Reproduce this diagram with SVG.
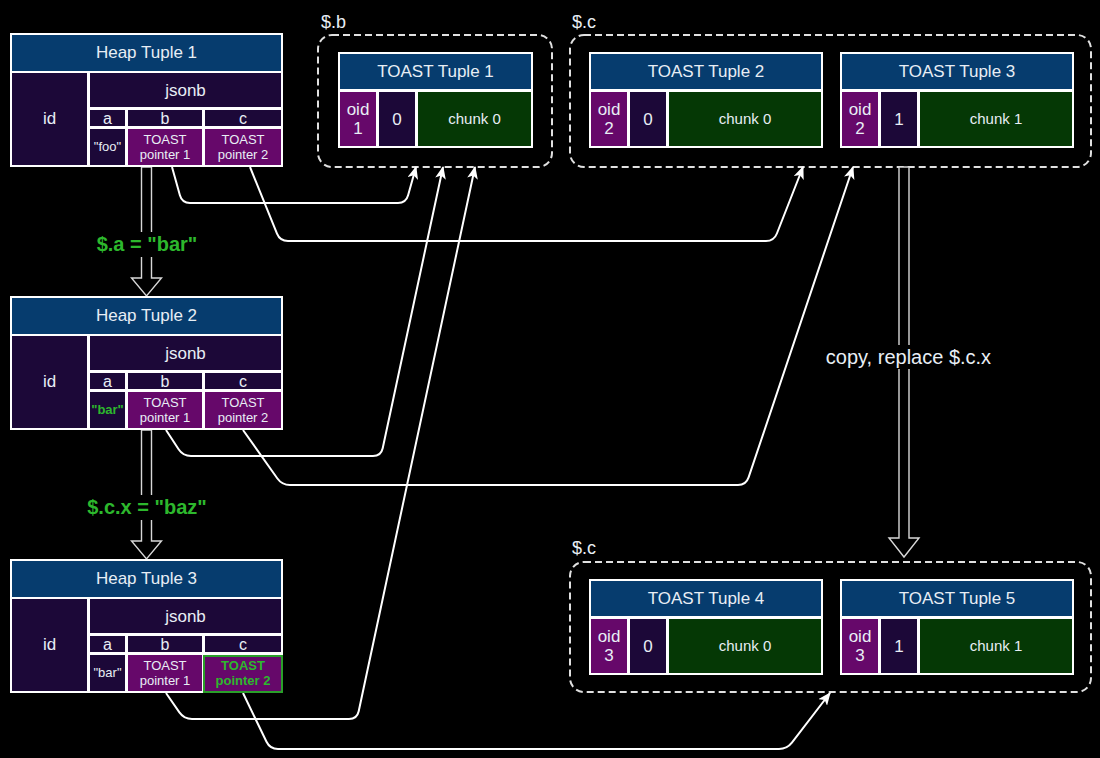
<svg xmlns="http://www.w3.org/2000/svg" width="1100" height="758" viewBox="0 0 1100 758">
<defs>
<style>
.bd{fill:#ffffff}
.hd{fill:#063c6e}
.dp{fill:#1c0838}
.pp{fill:#66086a}
.gr{fill:#053805}
text{font-family:"Liberation Sans",Arial,Helvetica,sans-serif;text-anchor:middle;fill:#e8eef5}
.f17{font-size:17px}
.f16{font-size:16px}
.f15{font-size:15px}
.f13{font-size:13px}
.gt{fill:#2db82d;font-weight:bold}
.grp{fill:none;stroke:#e0e0e0;stroke-width:2;stroke-dasharray:7 4}
.lbl{font-size:18px;text-anchor:start}
.con{fill:none;stroke:#ffffff;stroke-width:2}
.hol{fill:#000;stroke:#d8d8d8;stroke-width:1.4}
</style>
<marker id="ah" viewBox="0 0 12 10" refX="11" refY="5" markerWidth="13" markerHeight="11" markerUnits="userSpaceOnUse" orient="auto">
<path d="M0,0 L12,5 L0,10 L3,5 z" fill="#ffffff"/>
</marker>
</defs>
<rect width="1100" height="758" fill="#000"/>

<!-- groups (dashed) -->
<g id="group-b">
<rect class="grp" x="318" y="35" width="234" height="132" rx="14"/>
<text class="lbl" x="321" y="28">$.b</text>
</g>
<g id="group-c-top">
<rect class="grp" x="570" y="35" width="521" height="132" rx="14"/>
<text class="lbl" x="572" y="28">$.c</text>
</g>
<g id="group-c-bottom">
<rect class="grp" x="570" y="562" width="521" height="130" rx="14"/>
<text class="lbl" x="572" y="554">$.c</text>
</g>

<!-- connectors -->
<g id="connectors">
<path class="con" marker-end="url(#ah)" d="M172,167 L179.9,195.3 Q182,203 190,203 L398,203 Q406,203 408.1,195.3 L416,167"/>
<path class="con" marker-end="url(#ah)" d="M250,167 L277,233.6 Q280,241 288,241 L766,241 Q774,241 776.9,233.5 L803,167"/>
<path class="con" marker-end="url(#ah)" d="M166,430 L178.6,449.3 Q183,456 191,456 L373,456 Q381,456 382.7,448.2 L443,167"/>
<path class="con" marker-end="url(#ah)" d="M243,430 L277.4,478.5 Q282,485 290,485 L738,485 Q746,485 748.6,477.4 L853,167"/>
<path class="con" marker-end="url(#ah)" d="M166,693 L179.4,712.4 Q184,719 192,719 L349,719 Q357,719 358.7,711.2 L475,167"/>
<path class="con" marker-end="url(#ah)" d="M243,693 L266.5,741.8 Q270,749 278,749 L779,749 Q787,749 791.9,742.7 L830,693"/>
<!-- hollow update arrows -->
<polygon class="hol" points="141.5,167 151.5,167 151.5,278 161.5,278 146.5,296 131.5,278 141.5,278"/>
<rect x="94" y="232" width="106" height="25" fill="#000"/>
<text class="gt" style="font-size:20px" x="147" y="251">$.a = "bar"</text>
<polygon class="hol" points="141.5,430 151.5,430 151.5,541 161.5,541 146.5,559 131.5,541 141.5,541"/>
<rect x="85" y="495" width="124" height="25" fill="#000"/>
<text class="gt" style="font-size:20px" x="147" y="514">$.c.x = "baz"</text>
<polygon class="hol" points="899,167 909,167 909,538 919,538 904,557 889,538 899,538"/>
<rect x="823" y="345" width="171" height="24" fill="#000"/>
<text style="font-size:20px" x="908.5" y="364">copy, replace $.c.x</text>
</g>

<!-- Heap tuples -->
<g id="heap-tuple-1" transform="translate(10,33)">
<rect class="bd" width="273" height="134"/>
<rect class="hd" x="2" y="2" width="269" height="36"/>
<rect class="dp" x="2" y="40" width="75" height="92"/>
<rect class="dp" x="80" y="40" width="191" height="34"/>
<rect class="dp" x="80" y="77" width="35" height="16"/>
<rect class="dp" x="118" y="77" width="74" height="16"/>
<rect class="dp" x="195" y="77" width="76" height="16"/>
<rect class="dp" x="80" y="96" width="35" height="36"/>
<rect class="pp" x="118" y="96" width="74" height="36"/>
<rect class="pp" x="195" y="96" width="76" height="36"/>
<text class="f17" x="136.5" y="25">Heap Tuple 1</text>
<text class="f17" x="39.5" y="91">id</text>
<text class="f17" x="175.5" y="63">jsonb</text>
<text class="f16" x="97.5" y="91">a</text>
<text class="f16" x="155" y="91">b</text>
<text class="f16" x="233" y="91">c</text>
<text class="f13" x="97.5" y="118">"foo"</text>
<text class="f13" x="155" y="111">TOAST</text>
<text class="f13" x="155" y="126">pointer 1</text>
<text class="f13" x="233" y="111">TOAST</text>
<text class="f13" x="233" y="126">pointer 2</text>
</g>

<g id="heap-tuple-2" transform="translate(10,296)">
<rect class="bd" width="273" height="134"/>
<rect class="hd" x="2" y="2" width="269" height="36"/>
<rect class="dp" x="2" y="40" width="75" height="92"/>
<rect class="dp" x="80" y="40" width="191" height="34"/>
<rect class="dp" x="80" y="77" width="35" height="16"/>
<rect class="dp" x="118" y="77" width="74" height="16"/>
<rect class="dp" x="195" y="77" width="76" height="16"/>
<rect class="dp" x="80" y="96" width="35" height="36"/>
<rect class="pp" x="118" y="96" width="74" height="36"/>
<rect class="pp" x="195" y="96" width="76" height="36"/>
<text class="f17" x="136.5" y="25">Heap Tuple 2</text>
<text class="f17" x="39.5" y="91">id</text>
<text class="f17" x="175.5" y="63">jsonb</text>
<text class="f16" x="97.5" y="91">a</text>
<text class="f16" x="155" y="91">b</text>
<text class="f16" x="233" y="91">c</text>
<text class="f13 gt" x="97.5" y="118">"bar"</text>
<text class="f13" x="155" y="111">TOAST</text>
<text class="f13" x="155" y="126">pointer 1</text>
<text class="f13" x="233" y="111">TOAST</text>
<text class="f13" x="233" y="126">pointer 2</text>
</g>

<g id="heap-tuple-3" transform="translate(10,559)">
<rect class="bd" width="273" height="134"/>
<rect class="hd" x="2" y="2" width="269" height="36"/>
<rect class="dp" x="2" y="40" width="75" height="92"/>
<rect class="dp" x="80" y="40" width="191" height="34"/>
<rect class="dp" x="80" y="77" width="35" height="16"/>
<rect class="dp" x="118" y="77" width="74" height="16"/>
<rect class="dp" x="195" y="77" width="76" height="16"/>
<rect class="dp" x="80" y="96" width="35" height="36"/>
<rect class="pp" x="118" y="96" width="74" height="36"/>
<rect class="pp" x="194" y="97" width="78" height="36" stroke="#2a9e2a" stroke-width="2"/>
<text class="f17" x="136.5" y="25">Heap Tuple 3</text>
<text class="f17" x="39.5" y="91">id</text>
<text class="f17" x="175.5" y="63">jsonb</text>
<text class="f16" x="97.5" y="91">a</text>
<text class="f16" x="155" y="91">b</text>
<text class="f16" x="233" y="91">c</text>
<text class="f13" x="97.5" y="118">"bar"</text>
<text class="f13" x="155" y="111">TOAST</text>
<text class="f13" x="155" y="126">pointer 1</text>
<text class="f13 gt" x="233" y="111">TOAST</text>
<text class="f13 gt" x="233" y="126">pointer 2</text>
</g>

<!-- TOAST tuples -->
<g id="toast-tuple-1" transform="translate(338,52)">
<rect class="bd" width="195" height="96"/>
<rect class="hd" x="2" y="2" width="191" height="35"/>
<rect class="pp" x="2" y="40" width="36" height="54"/>
<rect class="dp" x="41" y="40" width="36" height="54"/>
<rect class="gr" x="80" y="40" width="113" height="54"/>
<text class="f17" x="97.5" y="25">TOAST Tuple 1</text>
<text class="f17" x="20" y="63">oid</text>
<text class="f17" x="20" y="82">1</text>
<text class="f17" x="59" y="73">0</text>
<text class="f15" x="136.5" y="72">chunk 0</text>
</g>

<g id="toast-tuple-2" transform="translate(589,52)">
<rect class="bd" width="234" height="96"/>
<rect class="hd" x="2" y="2" width="230" height="35"/>
<rect class="pp" x="2" y="40" width="36" height="54"/>
<rect class="dp" x="41" y="40" width="36" height="54"/>
<rect class="gr" x="80" y="40" width="152" height="54"/>
<text class="f17" x="117" y="25">TOAST Tuple 2</text>
<text class="f17" x="20" y="63">oid</text>
<text class="f17" x="20" y="82">2</text>
<text class="f17" x="59" y="73">0</text>
<text class="f15" x="156" y="72">chunk 0</text>
</g>

<g id="toast-tuple-3" transform="translate(840,52)">
<rect class="bd" width="234" height="96"/>
<rect class="hd" x="2" y="2" width="230" height="35"/>
<rect class="pp" x="2" y="40" width="36" height="54"/>
<rect class="dp" x="41" y="40" width="36" height="54"/>
<rect class="gr" x="80" y="40" width="152" height="54"/>
<text class="f17" x="117" y="25">TOAST Tuple 3</text>
<text class="f17" x="20" y="63">oid</text>
<text class="f17" x="20" y="82">2</text>
<text class="f17" x="59" y="73">1</text>
<text class="f15" x="156" y="72">chunk 1</text>
</g>

<g id="toast-tuple-4" transform="translate(589,579)">
<rect class="bd" width="234" height="96"/>
<rect class="hd" x="2" y="2" width="230" height="35"/>
<rect class="pp" x="2" y="40" width="36" height="54"/>
<rect class="dp" x="41" y="40" width="36" height="54"/>
<rect class="gr" x="80" y="40" width="152" height="54"/>
<text class="f17" x="117" y="25">TOAST Tuple 4</text>
<text class="f17" x="20" y="63">oid</text>
<text class="f17" x="20" y="82">3</text>
<text class="f17" x="59" y="73">0</text>
<text class="f15" x="156" y="72">chunk 0</text>
</g>

<g id="toast-tuple-5" transform="translate(840,579)">
<rect class="bd" width="234" height="96"/>
<rect class="hd" x="2" y="2" width="230" height="35"/>
<rect class="pp" x="2" y="40" width="36" height="54"/>
<rect class="dp" x="41" y="40" width="36" height="54"/>
<rect class="gr" x="80" y="40" width="152" height="54"/>
<text class="f17" x="117" y="25">TOAST Tuple 5</text>
<text class="f17" x="20" y="63">oid</text>
<text class="f17" x="20" y="82">3</text>
<text class="f17" x="59" y="73">1</text>
<text class="f15" x="156" y="72">chunk 1</text>
</g>
</svg>
